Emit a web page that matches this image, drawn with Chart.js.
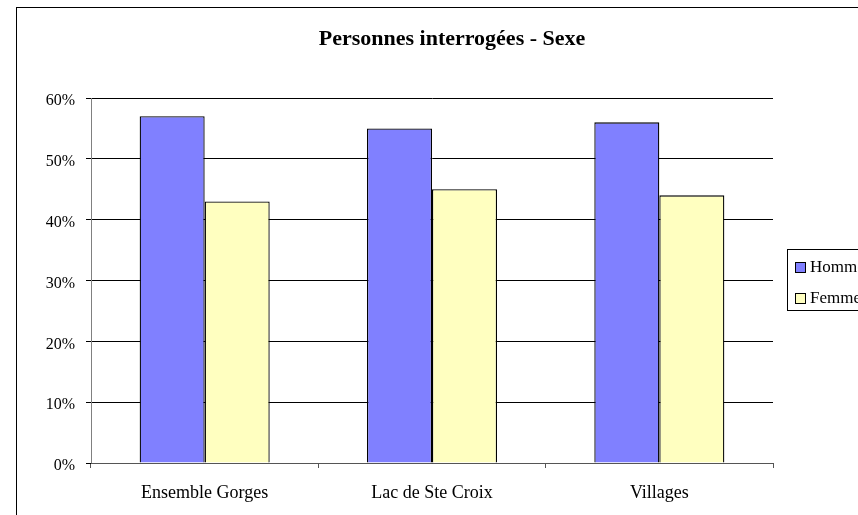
<!DOCTYPE html>
<html><head><meta charset="utf-8">
<script src="https://cdn.jsdelivr.net/npm/chart.js@4"></script>
<style>
html,body{margin:0;padding:0;overflow:hidden;width:858px;height:515px;background:#fff}
#wrap{position:absolute;left:16px;top:7px;width:858px;height:520px}
</style>
</head><body><div id="wrap"><canvas id="c" width="858" height="520"></canvas></div>
<script>
const categories = ["Ensemble Gorges", "Lac de Ste Croix", "Villages"];
const hommes = [57, 55, 56];
const femmes = [43, 45, 44];
const seriesNames = ["Hommes", "Femmes"];
const seriesColors = ["#8080FF", "#FFFFC0"];
const yMin = 0, yMax = 60, yStep = 10;
const chartTitle = "Personnes interrogées - Sexe";

const FONT = "'Liberation Serif', 'Times New Roman', serif";

const framePlugin = {
  id: 'frame',
  afterDraw(chart) {
    const ctx = chart.ctx;
    ctx.save();
    ctx.strokeStyle = '#000';
    ctx.lineWidth = 1;
    ctx.strokeRect(0.5, 0.5, chart.width + 20, chart.height + 20);
    ctx.fillStyle = '#000';
    ctx.font = "bold 22px " + FONT;
    ctx.textAlign = 'center';
    ctx.textBaseline = 'alphabetic';
    ctx.fillText(chartTitle, 436, 38);
    const lx = 771, ly = 242;
    ctx.strokeRect(lx + 0.5, ly + 0.5, 200, 61);
    ctx.font = "17px " + FONT;
    ctx.textAlign = 'left';
    ctx.textBaseline = 'middle';
    chart.data.datasets.forEach((ds, i) => {
      const cy = ly + 19 + i * 31;
      ctx.fillStyle = ds.backgroundColor;
      ctx.fillRect(lx + 8.5, cy - 5.5, 10, 10);
      ctx.strokeStyle = '#000';
      ctx.strokeRect(lx + 8.5, cy - 5.5, 10, 10);
      ctx.fillStyle = '#000';
      ctx.fillText(ds.label, lx + 23, cy);
    });
    ctx.restore();
  }
};

new Chart(document.getElementById('c'), {
  type: 'bar',
  data: {
    labels: categories,
    datasets: [
      { label: seriesNames[0], data: hommes, backgroundColor: seriesColors[0], borderColor: '#000', borderWidth: 1.3 },
      { label: seriesNames[1], data: femmes, backgroundColor: seriesColors[1], borderColor: '#000', borderWidth: 1.3 }
    ]
  },
  options: {
    responsive: false,
    animation: false,
    devicePixelRatio: 1,
    layout: { padding: { left: 0, right: 101, top: 91, bottom: 19 } },
    datasets: { bar: { categoryPercentage: 0.572, barPercentage: 1 } },
    plugins: { legend: { display: false }, title: { display: false }, tooltip: { enabled: false } },
    scales: {
      y: {
        min: yMin, max: yMax,
        ticks: { stepSize: yStep, callback: v => v + '%', color: '#000', font: { family: FONT, size: 16 }, padding: 11, labelOffset: 3 },
        grid: { color: '#000', lineWidth: 1, tickLength: 5, tickColor: '#000' },
        border: { display: true, color: '#808080' },
        afterFit(s) { s.width = 75; }
      },
      x: {
        ticks: { color: '#000', font: { family: FONT, size: 18 }, padding: 14 },
        grid: { offset: true, drawOnChartArea: false, tickLength: 5, color: '#555', lineWidth: 1 },
        border: { display: true, color: '#555' },
        afterFit(s) { s.height = 45; }
      }
    }
  },
  plugins: [framePlugin]
});
</script>
</body></html>
